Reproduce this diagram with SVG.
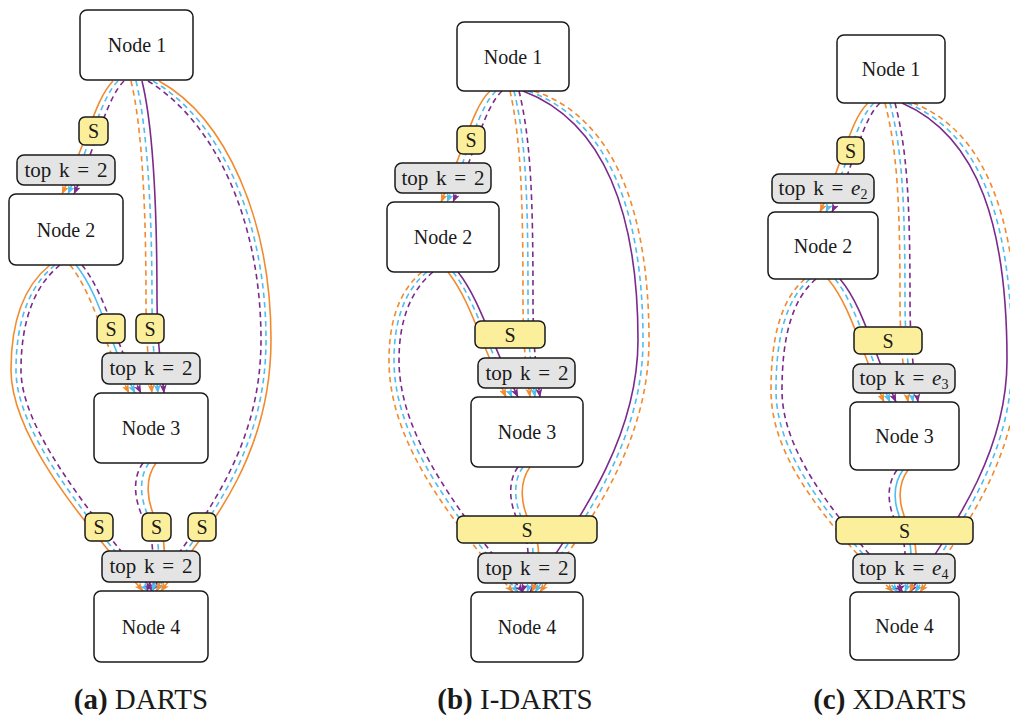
<svg xmlns="http://www.w3.org/2000/svg" width="1010" height="721" viewBox="0 0 1010 721" font-family="'Liberation Serif','DejaVu Serif',serif">
<style>
.node rect{fill:#fff;stroke:#1a1a1a;stroke-width:1.5}
.s rect{fill:#fcef9c;stroke:#1a1a1a;stroke-width:1.5}
.tk rect{fill:#e4e4e4;stroke:#1a1a1a;stroke-width:1.5}
text{font-family:'Liberation Serif','DejaVu Serif',serif;fill:#1a1a1a;text-anchor:middle}
.lbl{font-size:20px}
.tkt{font-size:21px;word-spacing:2.5px}
.cap{font-size:29px}
#edges path{fill:none;stroke-width:1.6}
.o{stroke:#f28a2e;marker-end:url(#ao)}
.b{stroke:#4fbdee;marker-end:url(#ab)}
.p{stroke:#7b2a8c;marker-end:url(#ap)}
.d{stroke-dasharray:5.5 4}
</style>
<defs>
<marker id="ao" viewBox="0 0 9 7" refX="8.5" refY="3.5" markerWidth="9" markerHeight="7" markerUnits="userSpaceOnUse" orient="auto"><path d="M0,0 L9,3.5 L0,7 L2.2,3.5 z" fill="#f28a2e"/></marker>
<marker id="ab" viewBox="0 0 9 7" refX="8.5" refY="3.5" markerWidth="9" markerHeight="7" markerUnits="userSpaceOnUse" orient="auto"><path d="M0,0 L9,3.5 L0,7 L2.2,3.5 z" fill="#4fbdee"/></marker>
<marker id="ap" viewBox="0 0 9 7" refX="8.5" refY="3.5" markerWidth="9" markerHeight="7" markerUnits="userSpaceOnUse" orient="auto"><path d="M0,0 L9,3.5 L0,7 L2.2,3.5 z" fill="#7b2a8c"/></marker>
</defs>

<g id="edges">
<!-- panel a -->
<path class="o" d="M113,81 C96,98 88,138 62,194"/>
<path class="b d" d="M118,81 C101,98 93,138 68,194"/>
<path class="p d" d="M124,81 C107,98 99,138 74,194"/>

<path class="o d" d="M131,81 C143,130 146,220 146,300 C146,350 150,372 152,393"/>
<path class="b d" d="M136,81 C148,130 152,220 152,300 C152,350 156,372 158,393"/>
<path class="p" d="M142,81 C154,130 157,220 157,300 C157,350 162,372 164,393"/>

<path class="p d" d="M148,81 C215,122 261,220 261,340 C261,448 205,518 151,591"/>
<path class="b d" d="M153,81 C220,120 266,220 266,340 C266,450 210,520 156,591"/>
<path class="o" d="M159,81 C226,118 271,220 271,340 C271,452 215,522 161,591"/>

<path class="o d" d="M70,265 C94,295 102,340 129,393"/>
<path class="b" d="M76,265 C100,295 108,340 135,393"/>
<path class="p d" d="M82,265 C106,295 114,340 141,393"/>

<path class="o" d="M50,265 C25,285 11,320 11,370 C11,432 74,512 143,591"/>
<path class="b d" d="M55,265 C30,285 16,320 16,370 C16,430 80,510 148,591"/>
<path class="p d" d="M60,265 C35,285 21,320 21,370 C21,428 86,508 153,591"/>

<path class="p d" d="M143,463 C132,478 134,500 144,520 C154,535 156,565 147,591"/>
<path class="b d" d="M149,463 C138,478 140,500 150,520 C160,535 162,565 152,591"/>
<path class="o" d="M156,463 C145,478 146,500 156,520 C166,535 168,565 157,591"/>

<!-- panel b -->
<path class="o" d="M490,91 C472,108 464,150 441,202"/>
<path class="b d" d="M496,91 C478,108 470,150 447,202"/>
<path class="p d" d="M502,91 C484,108 476,150 453,202"/>

<path class="o d" d="M510,91 C521,140 523,200 523,300 C523,350 527,375 530,397"/>
<path class="b d" d="M514,91 C526,140 528,200 528,300 C528,350 532,375 535,397"/>
<path class="p d" d="M519,91 C531,140 533,200 533,300 C533,350 537,375 540,397"/>

<path class="p" d="M523,91 C605,122 638,215 638,340 C638,438 580,518 530,592"/>
<path class="b d" d="M528,91 C610,120 643,215 643,340 C643,440 585,520 535,592"/>
<path class="o d" d="M534,91 C616,118 649,215 649,340 C649,442 591,522 540,592"/>

<path class="o" d="M448,272 C470,300 480,340 506,397"/>
<path class="b d" d="M453,272 C475,300 485,340 512,397"/>
<path class="p" d="M458,272 C480,300 490,340 518,397"/>

<path class="o d" d="M422,272 C400,290 389,320 389,360 C389,432 434,502 513,592"/>
<path class="b d" d="M427,272 C405,290 394,320 394,360 C394,430 440,500 518,592"/>
<path class="p d" d="M433,272 C411,290 399,320 399,360 C399,428 446,498 523,592"/>

<path class="p d" d="M518,467 C507,482 509,505 520,525 C530,540 531,568 522,592"/>
<path class="b d" d="M523,467 C512,482 514,505 525,525 C535,540 536,568 527,592"/>
<path class="o" d="M530,467 C519,482 520,505 531,525 C541,540 541,568 532,592"/>

<!-- panel c -->
<path class="o" d="M868,103 C850,120 844,160 820,212"/>
<path class="b d" d="M874,103 C856,120 850,160 826,212"/>
<path class="p d" d="M880,103 C862,120 856,160 832,212"/>

<path class="o d" d="M885,103 C897,150 900,200 900,300 C900,350 905,380 908,402"/>
<path class="b d" d="M890,103 C902,150 905,200 905,300 C905,350 910,380 913,402"/>
<path class="p d" d="M895,103 C907,150 910,200 910,300 C910,350 915,380 918,402"/>

<path class="p" d="M902,103 C980,137 1007,230 1007,360 C1007,448 960,518 910,592"/>
<path class="b d" d="M907,103 C985,135 1012,230 1012,360 C1012,450 965,520 915,592"/>
<path class="o d" d="M913,103 C991,133 1018,230 1018,360 C1018,452 971,522 920,592"/>

<path class="o" d="M828,279 C850,305 859,345 884,402"/>
<path class="b d" d="M835,279 C856,305 865,345 890,402"/>
<path class="p" d="M840,279 C862,305 871,345 896,402"/>

<path class="o d" d="M805,279 C780,300 771,340 771,390 C771,452 815,512 893,592"/>
<path class="b d" d="M810,279 C785,300 776,340 776,390 C776,450 820,510 898,592"/>
<path class="p d" d="M816,279 C791,300 782,340 782,390 C782,448 826,508 903,592"/>

<path class="p d" d="M897,470 C886,485 887,505 897,525 C907,540 908,568 899,592"/>
<path class="b" d="M903,470 C892,485 893,505 903,525 C913,540 914,568 905,592"/>
<path class="o" d="M908,470 C897,485 898,505 908,525 C918,540 919,568 910,592"/>
</g>

<!-- panel a nodes -->
<g id="a-node1" class="node"><rect x="80" y="10" width="113" height="70" rx="7"/><text class="lbl" x="137" y="52">Node 1</text></g>
<g id="a-s12" class="s"><rect x="79" y="117" width="29" height="28" rx="6"/><text class="lbl" x="93.5" y="138">S</text></g>
<g id="a-topk2" class="tk"><rect x="17" y="155" width="98" height="30" rx="7"/><text class="tkt" x="66" y="176.5">top k = 2</text></g>
<g id="a-node2" class="node"><rect x="9" y="194" width="114" height="71" rx="7"/><text class="lbl" x="66" y="237">Node 2</text></g>
<g id="a-s23" class="s"><rect x="97" y="314" width="28" height="29" rx="6"/><text class="lbl" x="111" y="335.5">S</text></g>
<g id="a-s13" class="s"><rect x="136" y="314" width="28" height="29" rx="6"/><text class="lbl" x="150" y="335.5">S</text></g>
<g id="a-topk3" class="tk"><rect x="102" y="353" width="98" height="31" rx="7"/><text class="tkt" x="151" y="375">top k = 2</text></g>
<g id="a-node3" class="node"><rect x="94" y="393" width="114" height="70" rx="7"/><text class="lbl" x="151" y="435">Node 3</text></g>
<g id="a-s24" class="s"><rect x="85" y="513" width="28" height="28" rx="6"/><text class="lbl" x="99" y="534">S</text></g>
<g id="a-s34" class="s"><rect x="142" y="513" width="29" height="28" rx="6"/><text class="lbl" x="156.5" y="534">S</text></g>
<g id="a-s14" class="s"><rect x="188" y="513" width="28" height="28" rx="6"/><text class="lbl" x="202" y="534">S</text></g>
<g id="a-topk4" class="tk"><rect x="102" y="551" width="98" height="31" rx="7"/><text class="tkt" x="151" y="573">top k = 2</text></g>
<g id="a-node4" class="node"><rect x="94" y="591" width="114" height="71" rx="7"/><text class="lbl" x="151" y="634">Node 4</text></g>

<!-- panel b nodes -->
<g id="b-node1" class="node"><rect x="457" y="22" width="112" height="69" rx="7"/><text class="lbl" x="513" y="63.5">Node 1</text></g>
<g id="b-s12" class="s"><rect x="457" y="126" width="28" height="28" rx="6"/><text class="lbl" x="471" y="147">S</text></g>
<g id="b-topk2" class="tk"><rect x="395" y="163" width="96" height="30" rx="7"/><text class="tkt" x="443" y="184.5">top k = 2</text></g>
<g id="b-node2" class="node"><rect x="387" y="202" width="112" height="70" rx="7"/><text class="lbl" x="443" y="244">Node 2</text></g>
<g id="b-s3" class="s"><rect x="475" y="321" width="70" height="27" rx="6"/><text class="lbl" x="510" y="341.5">S</text></g>
<g id="b-topk3" class="tk"><rect x="478" y="358" width="97" height="30" rx="7"/><text class="tkt" x="527" y="379.5">top k = 2</text></g>
<g id="b-node3" class="node"><rect x="471" y="397" width="112" height="70" rx="7"/><text class="lbl" x="527" y="439">Node 3</text></g>
<g id="b-s4" class="s"><rect x="457" y="516" width="140" height="27" rx="6"/><text class="lbl" x="527" y="536.5">S</text></g>
<g id="b-topk4" class="tk"><rect x="478" y="553" width="97" height="30" rx="7"/><text class="tkt" x="527" y="574.5">top k = 2</text></g>
<g id="b-node4" class="node"><rect x="471" y="592" width="112" height="70" rx="7"/><text class="lbl" x="527" y="634">Node 4</text></g>

<!-- panel c nodes -->
<g id="c-node1" class="node"><rect x="837" y="35" width="108" height="68" rx="7"/><text class="lbl" x="891" y="76">Node 1</text></g>
<g id="c-s12" class="s"><rect x="837" y="137" width="27" height="27" rx="6"/><text class="lbl" x="850.5" y="157.5">S</text></g>
<g id="c-topk2" class="tk"><rect x="772" y="174" width="102" height="29" rx="7"/><text class="tkt" x="823" y="195">top k = <tspan font-style="italic">e</tspan><tspan font-size="14" dy="4">2</tspan></text></g>
<g id="c-node2" class="node"><rect x="768" y="212" width="110" height="67" rx="7"/><text class="lbl" x="823" y="252.5">Node 2</text></g>
<g id="c-s3" class="s"><rect x="854" y="327" width="68" height="27" rx="6"/><text class="lbl" x="888" y="347.5">S</text></g>
<g id="c-topk3" class="tk"><rect x="853" y="364" width="102" height="29" rx="7"/><text class="tkt" x="904" y="385">top k = <tspan font-style="italic">e</tspan><tspan font-size="14" dy="4">3</tspan></text></g>
<g id="c-node3" class="node"><rect x="850" y="402" width="109" height="68" rx="7"/><text class="lbl" x="904.5" y="443">Node 3</text></g>
<g id="c-s4" class="s"><rect x="836" y="517" width="137" height="27" rx="6"/><text class="lbl" x="904.5" y="537.5">S</text></g>
<g id="c-topk4" class="tk"><rect x="853" y="554" width="102" height="29" rx="7"/><text class="tkt" x="904" y="575">top k = <tspan font-style="italic">e</tspan><tspan font-size="14" dy="4">4</tspan></text></g>
<g id="c-node4" class="node"><rect x="850" y="592" width="109" height="68" rx="7"/><text class="lbl" x="904.5" y="633">Node 4</text></g>

<!-- captions -->
<text class="cap" x="141" y="709"><tspan font-weight="bold">(a)</tspan> DARTS</text>
<text class="cap" x="515" y="709"><tspan font-weight="bold">(b)</tspan> I-DARTS</text>
<text class="cap" x="890" y="709"><tspan font-weight="bold">(c)</tspan> XDARTS</text>
</svg>
